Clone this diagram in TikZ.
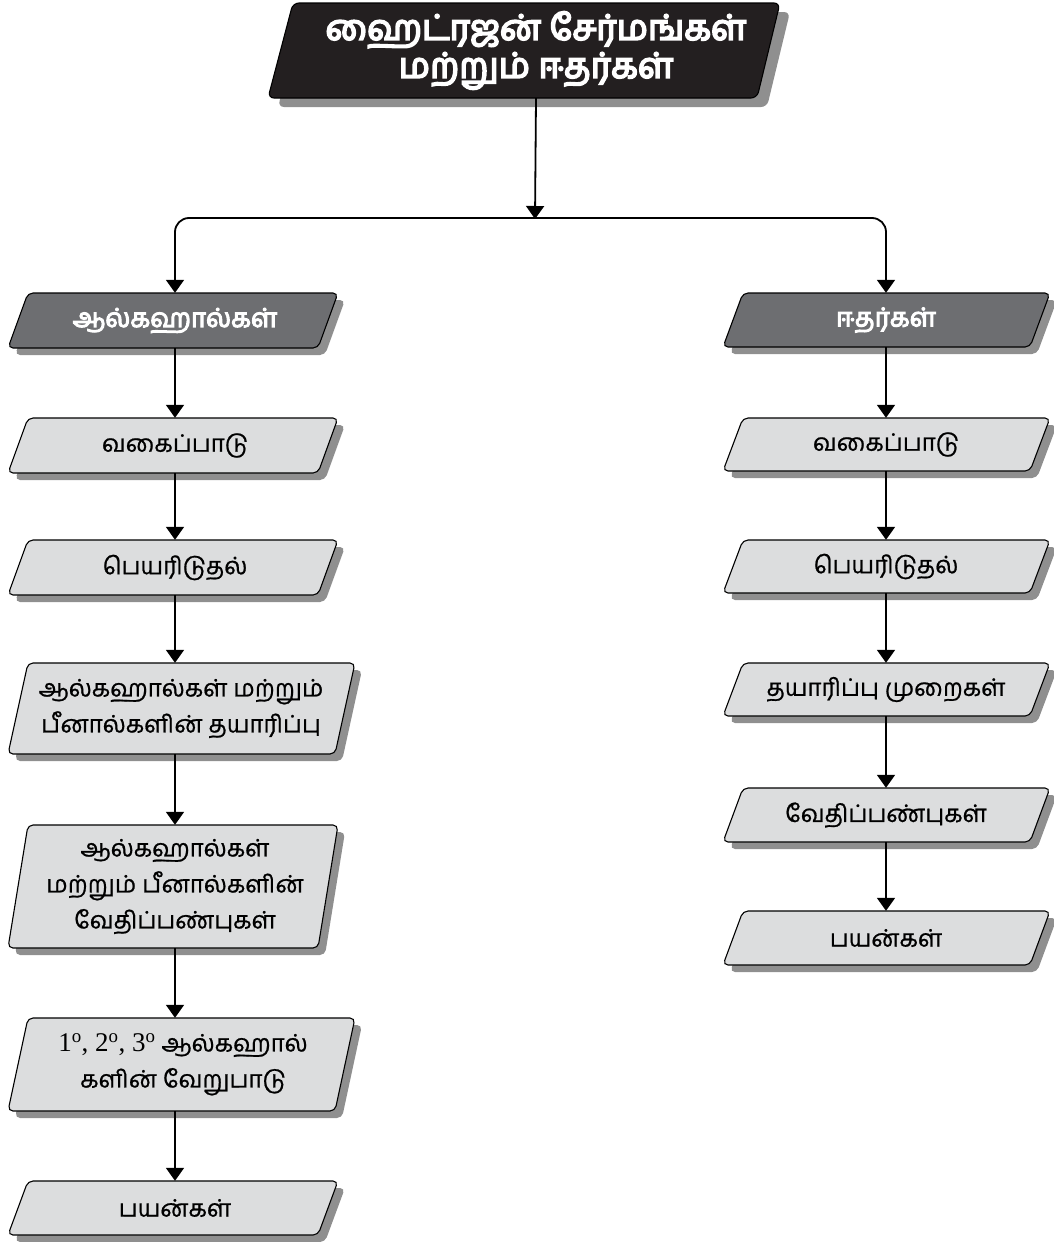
\documentclass[tikz,border=0pt]{standalone}
\usepackage{fontspec}
\setmainfont{Liberation Serif}
\newfontfamily\tamil[Script=Tamil, FakeBold=0.8]{Hind Madurai}
\newfontfamily\tamilbold[Script=Tamil, FakeBold=4]{Hind Madurai}
\newfontfamily\tamilheavy[Script=Tamil, FakeBold=5]{Hind Madurai}
\usetikzlibrary{arrows.meta}
\definecolor{titlefill}{HTML}{231F20}
\definecolor{darkfill}{HTML}{6D6E71}
\definecolor{lightfill}{HTML}{DCDDDE}
\definecolor{shadowcol}{HTML}{8F8F8F}
\tikzset{
  boxline/.style={draw=black, line width=1.1pt, rounded corners=5pt},
  shadowbox/.style={fill=shadowcol, rounded corners=5pt},
  lbl/.style={inner sep=0pt, align=center, font=\tamil\fontsize{24}{36}\selectfont},
  darklbl/.style={lbl, text=white, font=\tamilbold\fontsize{26}{36}\selectfont},
  titlelbl/.style={inner sep=0pt, align=center, text=white, font=\tamilheavy\fontsize{35}{38}\selectfont},
  conn/.style={line width=1.8pt, -{Triangle[width=18pt,length=13pt]}},
}
% name, node x, y top, y bottom, bottom-left x, bottom-right x, fill, label style, text
\newcommand\parabox[9]{%
  \fill[shadowbox] ({#5+7},{#4+7}) -- ({#6+7},{#4+7}) -- ({#6+27},{#3+7}) -- ({#5+27},{#3+7}) -- cycle;
  \filldraw[boxline, fill=#7] (#5,#4) -- (#6,#4) -- ({#6+20},#3) -- ({#5+20},#3) -- cycle;
  \node[#8, minimum height={#4-#3}] (#1) at (#2,{(#3+#4)/2}) {#9};
}
\begin{document}
\begin{tikzpicture}[x=1pt,y=-1pt]
\useasboundingbox (0,0) rectangle (1054,1242);
% title
\fill[shadowcol, rounded corners=6pt] (278,107) -- (767,107) -- (790,12) -- (303,12) -- cycle;
\filldraw[draw=black, line width=1.1pt, fill=titlefill, rounded corners=6pt] (268,98) -- (757,98) -- (780,3) -- (293,3) -- cycle;
\node[titlelbl, minimum height=95] (title) at (536,50.5) {ஹைட்ரஜன் சேர்மங்கள்\\மற்றும் ஈதர்கள்};
\coordinate (junc) at (535,218);
% left column
\parabox{L1}{175}{293}{348}{8}{318}{darkfill}{darklbl}{ஆல்கஹால்கள்}
\parabox{L2}{175}{418}{473}{8}{318}{lightfill}{lbl}{வகைப்பாடு}
\parabox{L3}{175}{540}{595}{8}{318}{lightfill}{lbl}{பெயரிடுதல்}
\parabox{L4}{181}{663}{754}{8}{335}{lightfill}{lbl}{ஆல்கஹால்கள் மற்றும்\\பீனால்களின் தயாரிப்பு}
\parabox{L5}{175}{825}{948}{8}{318}{lightfill}{lbl}{ஆல்கஹால்கள்\\மற்றும் பீனால்களின்\\வேதிப்பண்புகள்}
\parabox{L6}{183}{1018}{1111}{8}{335}{lightfill}{lbl}{{\rmfamily\fontsize{27}{36}\selectfont 1\textsuperscript{o}, 2\textsuperscript{o}, 3\textsuperscript{o}} ஆல்கஹால்\\களின் வேறுபாடு}
\parabox{L7}{175}{1181}{1235}{8}{318}{lightfill}{lbl}{பயன்கள்}
% right column
\parabox{R1}{886}{293}{347}{723}{1030}{darkfill}{darklbl}{ஈதர்கள்}
\parabox{R2}{886}{418}{471}{723}{1030}{lightfill}{lbl}{வகைப்பாடு}
\parabox{R3}{886}{540}{593}{723}{1030}{lightfill}{lbl}{பெயரிடுதல்}
\parabox{R4}{886}{663}{716}{723}{1030}{lightfill}{lbl}{தயாரிப்பு முறைகள்}
\parabox{R5}{886}{788}{842}{723}{1030}{lightfill}{lbl}{வேதிப்பண்புகள்}
\parabox{R6}{886}{911}{965}{723}{1030}{lightfill}{lbl}{பயன்கள்}
% connectors
\draw[conn] (title.south) -- ([yshift=-1pt]junc);
\draw[conn, rounded corners=14pt] (junc) -| (L1.north);
\draw[conn, rounded corners=14pt] (junc) -| (R1.north);
\draw[conn] (L1.south) -- (L2.north);
\draw[conn] (L2.south) -- (L3.north);
\draw[conn] (L3.south) -- (L3.south |- L4.north);
\draw[conn] (L4.south -| L3.south) -- (L3.south |- L5.north);
\draw[conn] (L5.south) -- (L5.south |- L6.north);
\draw[conn] (L6.south -| L5.south) -- (L7.north);
\draw[conn] (R1.south) -- (R2.north);
\draw[conn] (R2.south) -- (R3.north);
\draw[conn] (R3.south) -- (R4.north);
\draw[conn] (R4.south) -- (R5.north);
\draw[conn] (R5.south) -- (R6.north);
\end{tikzpicture}
\end{document}
